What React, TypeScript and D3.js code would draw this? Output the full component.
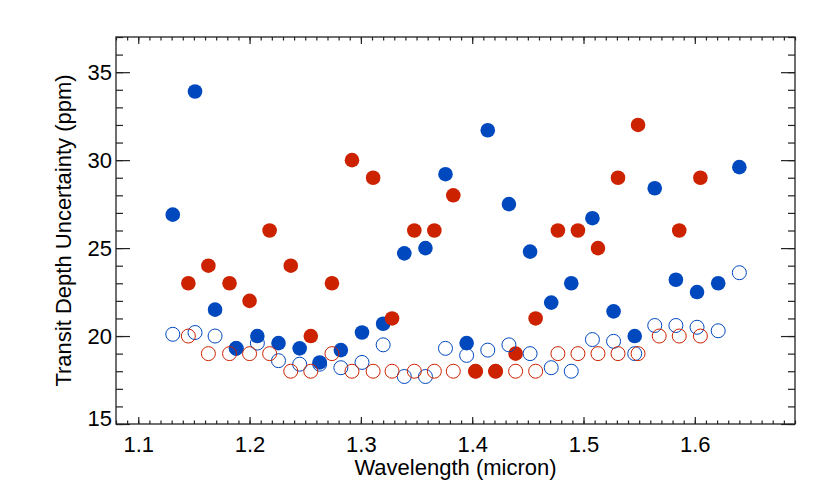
import React from 'react';
import * as d3 from 'd3';

// red series (longer wavelength grid offset)
const redWave = [1.145, 1.163, 1.182, 1.200, 1.218, 1.237, 1.255, 1.274, 1.292, 1.311, 1.328, 1.348, 1.366, 1.383, 1.403, 1.421, 1.439, 1.457, 1.477, 1.495, 1.513, 1.531, 1.549, 1.568, 1.586, 1.605];
const redFilled = [23, 24, 23, 22, 26, 24, 20, 23, 30, 29, 21, 26, 26, 28, 18, 18, 19, 21, 26, 26, 25, 29, 32, null, 26, 29];
const redOpen = [20, 19, 19, 19, 19, 18, 18, 19, 18, 18, 18, 18, 18, 18, 18, 18, 18, 18, 19, 19, 19, 19, 19, 20, 20, 20];

// blue series
const blueWave = [1.131, 1.151, 1.169, 1.188, 1.207, 1.226, 1.245, 1.263, 1.282, 1.301, 1.320, 1.339, 1.358, 1.376, 1.395, 1.414, 1.433, 1.452, 1.471, 1.489, 1.508, 1.527, 1.546, 1.564, 1.583, 1.602, 1.621, 1.640];
const blueFilled = [26.9, 33.9, 21.5, 19.3, 20.0, 19.6, 19.3, 18.5, 19.2, 20.2, 20.7, 24.7, 25.0, 29.2, 19.6, 31.7, 27.5, 24.8, 21.9, 23.0, 26.7, 21.4, 20.0, 28.4, 23.2, 22.5, 23.0, 29.6];
const blueOpen = [20.1, 20.2, 20.0, 19.3, 19.6, 18.6, 18.4, 18.4, 18.2, 18.5, 19.5, 17.7, 17.7, 19.3, 18.9, 19.2, 19.5, 19.0, 18.2, 18.0, 19.8, 19.7, 19.0, 20.6, 20.6, 20.5, 20.3, 23.6];

const xMajor = [1.1, 1.2, 1.3, 1.4, 1.5, 1.6];
const yMajor = [15, 20, 25, 30, 35];

const BLUE = '#0048BE';
const RED = '#CC2200';
const FONT = '"Liberation Sans", Arial, Helvetica, sans-serif';

const width = 830, height = 498;
const plot = { left: 116, right: 795, top: 37, bottom: 424 };

export default function App() {
    const container = React.useRef<SVGGElement>(null);

    const x = d3.scaleLinear().domain([1.08, 1.69]).range([plot.left, plot.right]);
    const y = d3.scaleLinear().domain([15, 37]).range([plot.bottom, plot.top]);

    React.useEffect(() => {
        if (!container.current) return;
        const g = d3.select(container.current);
        g.selectAll('*').remove();

        const xMinor = d3.range(108, 170).map(v => v / 100);
        const yMinor = d3.range(15, 38);

        const style = (sel: any) => {
            sel.select('.domain').remove();
            sel.selectAll('line').attr('stroke', '#222').attr('stroke-width', 1.2);
            sel.selectAll('text').attr('fill', '#000').style('font-family', FONT).style('font-size', '22px');
        };

        // bottom
        g.append('g').attr('transform', `translate(0,${plot.bottom})`)
            .call(d3.axisBottom(x).tickValues(xMinor).tickSize(-3.5).tickFormat(() => '')).call(style);
        g.append('g').attr('transform', `translate(0,${plot.bottom})`)
            .call(d3.axisBottom(x).tickValues(xMajor).tickSize(-7).tickPadding(12).tickFormat(d3.format('.1f'))).call(style);
        // top
        g.append('g').attr('transform', `translate(0,${plot.top})`)
            .call(d3.axisTop(x).tickValues(xMinor).tickSize(-3.5).tickFormat(() => '')).call(style);
        g.append('g').attr('transform', `translate(0,${plot.top})`)
            .call(d3.axisTop(x).tickValues(xMajor).tickSize(-7).tickFormat(() => '')).call(style);
        // left
        g.append('g').attr('transform', `translate(${plot.left},0)`)
            .call(d3.axisLeft(y).tickValues(yMinor).tickSize(-7).tickFormat(() => '')).call(style);
        const yl = g.append('g').attr('transform', `translate(${plot.left},0)`)
            .call(d3.axisLeft(y).tickValues(yMajor).tickSize(-14).tickPadding(4).tickFormat(d3.format('d'))).call(style);
        // bottom label sits above the corner
        yl.selectAll('text').filter((d: any) => d === 15).attr('dy', '0.05em');
        // right
        g.append('g').attr('transform', `translate(${plot.right},0)`)
            .call(d3.axisRight(y).tickValues(yMinor).tickSize(-7).tickFormat(() => '')).call(style);
        g.append('g').attr('transform', `translate(${plot.right},0)`)
            .call(d3.axisRight(y).tickValues(yMajor).tickSize(-14).tickFormat(() => '')).call(style);

        g.append('rect')
            .attr('x', plot.left).attr('y', plot.top)
            .attr('width', plot.right - plot.left).attr('height', plot.bottom - plot.top)
            .attr('fill', 'none').attr('stroke', '#222').attr('stroke-width', 1.3);
    }, []);

    const dots = (wave: number[], vals: (number | null)[]) =>
        wave.map((w, i) => ({ w, v: vals[i] })).filter(d => d.v != null) as { w: number, v: number }[];

    return <svg width={width} height={height} style={{ position: 'absolute', left: 0, top: 0, background: '#fff' }}>
        <g ref={container} />
        <g>
            {dots(blueWave, blueFilled).map((d, i) =>
                <circle key={'bf' + i} cx={x(d.w)} cy={y(d.v)} r={7.3} fill={BLUE} />)}
            {dots(redWave, redFilled).map((d, i) =>
                <circle key={'rf' + i} cx={x(d.w)} cy={y(d.v)} r={7.3} fill={RED} />)}
            {dots(blueWave, blueOpen).map((d, i) =>
                <circle key={'bo' + i} cx={x(d.w)} cy={y(d.v)} r={7} fill="none" stroke={BLUE} strokeWidth={1} />)}
            {dots(redWave, redOpen).map((d, i) =>
                <circle key={'ro' + i} cx={x(d.w)} cy={y(d.v)} r={7} fill="none" stroke={RED} strokeWidth={1} />)}
        </g>
        <text x={(plot.left + plot.right) / 2} y={475} textAnchor="middle"
            style={{ fontFamily: FONT, fontSize: 22 }}>Wavelength (micron)</text>
        <text transform={`translate(71,${(plot.top + plot.bottom) / 2}) rotate(-90)`} textAnchor="middle"
            style={{ fontFamily: FONT, fontSize: 22 }}>Transit Depth Uncertainty (ppm)</text>
    </svg>
}
